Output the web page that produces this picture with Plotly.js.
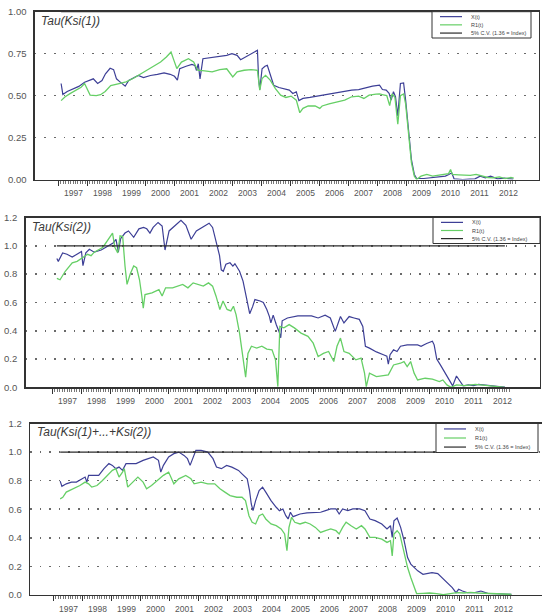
<!DOCTYPE html>
<html>
<head>
<meta charset="utf-8">
<script src="https://cdn.plot.ly/plotly-3.0.1.min.js"></script>
<style>html,body{margin:0;padding:0;background:#fff}</style>
</head>
<body>
<div id="chart" style="width:542px;height:612px"></div>
<script>
// Year labels on the time axis
const yearLabels = [1997,1998,1999,2000,2001,2002,2003,2004,2005,2006,2007,2008,2009,2010,2011,2012];
const seriesNames = ['X(t)', 'R1(t)', '5% C.V. (1.36 = Index)'];
const cvLevel = 1.0;   // 5% critical value expressed as index (1.36 -> 1)

// Tau(Ksi(1)) : [decimal year, index]
const ksi1X = [[1997.09,0.572],[1997.15,0.507],[1997.3,0.525],[1997.5,0.54],[1997.7,0.555],[1997.9,0.58],[1998.05,0.59],[1998.2,0.6],[1998.35,0.572],[1998.5,0.59],[1998.62,0.63],[1998.78,0.663],[1998.9,0.655],[1999.0,0.6],[1999.1,0.585],[1999.2,0.57],[1999.3,0.556],[1999.42,0.59],[1999.63,0.61],[1999.75,0.62],[1999.93,0.607],[2000.17,0.62],[2000.41,0.627],[2000.64,0.635],[2000.85,0.627],[2001.0,0.615],[2001.1,0.592],[2001.18,0.66],[2001.4,0.675],[2001.6,0.686],[2001.7,0.68],[2001.76,0.65],[2001.82,0.69],[2001.88,0.6],[2001.98,0.72],[2002.25,0.726],[2002.52,0.73],[2002.8,0.74],[2002.98,0.75],[2003.16,0.74],[2003.28,0.714],[2003.46,0.73],[2003.66,0.75],[2003.86,0.77],[2003.9,0.6],[2003.94,0.536],[2004.02,0.66],[2004.12,0.675],[2004.2,0.68],[2004.3,0.62],[2004.42,0.562],[2004.6,0.548],[2004.78,0.542],[2004.96,0.533],[2005.08,0.513],[2005.2,0.523],[2005.29,0.47],[2005.43,0.483],[2005.67,0.489],[2005.91,0.497],[2006.15,0.503],[2006.39,0.509],[2006.63,0.517],[2006.87,0.529],[2007.11,0.533],[2007.35,0.536],[2007.59,0.548],[2007.83,0.556],[2008.07,0.562],[2008.17,0.536],[2008.3,0.533],[2008.4,0.513],[2008.47,0.473],[2008.55,0.523],[2008.62,0.493],[2008.7,0.379],[2008.79,0.572],[2008.9,0.576],[2008.97,0.473],[2009.07,0.276],[2009.17,0.118],[2009.27,0.03],[2009.35,0.006],[2009.6,0.006],[2009.87,0.01],[2010.1,0.016],[2010.34,0.02],[2010.46,0.03],[2010.56,0.04],[2010.64,0.004],[2010.94,0.0],[2011.18,0.002],[2011.36,0.004],[2011.54,0.02],[2011.72,0.01],[2011.9,0.02],[2012.14,0.004],[2012.38,0.008],[2012.68,0.002]];
const ksi1R1 = [[1997.09,0.47],[1997.23,0.493],[1997.41,0.513],[1997.6,0.53],[1997.78,0.55],[1997.9,0.572],[1998.0,0.54],[1998.09,0.503],[1998.3,0.5],[1998.45,0.505],[1998.61,0.525],[1998.8,0.56],[1999.09,0.572],[1999.33,0.582],[1999.57,0.602],[1999.81,0.627],[2000.05,0.651],[2000.28,0.675],[2000.52,0.7],[2000.72,0.73],[2000.88,0.76],[2000.98,0.71],[2001.08,0.661],[2001.24,0.7],[2001.48,0.72],[2001.66,0.7],[2001.8,0.651],[2002.04,0.647],[2002.3,0.641],[2002.56,0.655],[2002.8,0.66],[2003.01,0.611],[2003.16,0.641],[2003.4,0.651],[2003.64,0.655],[2003.86,0.651],[2003.94,0.533],[2004.02,0.602],[2004.14,0.621],[2004.3,0.592],[2004.48,0.542],[2004.66,0.503],[2004.84,0.489],[2005.02,0.497],[2005.2,0.473],[2005.32,0.398],[2005.43,0.424],[2005.61,0.438],[2005.85,0.438],[2006.01,0.424],[2006.09,0.438],[2006.33,0.45],[2006.63,0.464],[2006.87,0.473],[2007.11,0.493],[2007.35,0.497],[2007.53,0.483],[2007.71,0.503],[2007.95,0.509],[2008.07,0.51],[2008.2,0.505],[2008.32,0.5],[2008.42,0.44],[2008.5,0.51],[2008.6,0.49],[2008.7,0.33],[2008.79,0.5],[2008.9,0.51],[2008.97,0.45],[2009.07,0.26],[2009.17,0.1],[2009.27,0.02],[2009.35,0.0],[2009.5,0.02],[2009.7,0.03],[2009.9,0.02],[2010.1,0.025],[2010.3,0.03],[2010.45,0.035],[2010.52,0.06],[2010.58,0.03],[2010.8,0.028],[2011.0,0.028],[2011.2,0.025],[2011.4,0.03],[2011.6,0.02],[2011.8,0.012],[2012.0,0.01],[2012.2,0.015],[2012.4,0.005],[2012.6,0.012],[2012.7,0.008]];

// Tau(Ksi(2))
const ksi2X = [[1997.15,0.91],[1997.2,0.89],[1997.35,0.95],[1997.5,0.94],[1997.68,0.92],[1997.91,0.95],[1998.0,0.96],[1998.05,0.86],[1998.15,0.95],[1998.27,0.975],[1998.44,0.955],[1998.68,0.97],[1998.92,1.0],[1999.09,1.02],[1999.19,1.045],[1999.27,0.955],[1999.35,1.05],[1999.5,1.09],[1999.62,1.105],[1999.8,1.06],[1999.98,1.12],[2000.14,1.13],[2000.25,1.12],[2000.36,1.09],[2000.47,1.13],[2000.64,1.165],[2000.78,1.14],[2000.88,0.97],[2001.02,1.105],[2001.2,1.14],[2001.43,1.18],[2001.6,1.145],[2001.78,1.046],[2001.96,1.105],[2002.15,1.13],[2002.4,1.16],[2002.52,1.13],[2002.64,1.034],[2002.76,0.93],[2002.82,0.83],[2002.89,0.82],[2002.98,0.87],[2003.12,0.88],[2003.22,0.857],[2003.29,0.873],[2003.45,0.82],[2003.57,0.75],[2003.68,0.64],[2003.8,0.52],[2003.9,0.57],[2003.98,0.62],[2004.16,0.61],[2004.27,0.6],[2004.39,0.55],[2004.48,0.5],[2004.53,0.455],[2004.61,0.51],[2004.72,0.44],[2004.81,0.395],[2004.87,0.35],[2004.92,0.47],[2005.1,0.49],[2005.46,0.505],[2005.93,0.505],[2006.16,0.49],[2006.4,0.51],[2006.58,0.49],[2006.75,0.395],[2006.85,0.455],[2006.93,0.5],[2007.05,0.455],[2007.23,0.5],[2007.4,0.49],[2007.58,0.48],[2007.7,0.43],[2007.79,0.29],[2007.93,0.277],[2008.17,0.25],[2008.41,0.23],[2008.53,0.22],[2008.58,0.163],[2008.64,0.23],[2008.76,0.265],[2008.88,0.253],[2009.0,0.29],[2009.23,0.3],[2009.59,0.3],[2009.71,0.29],[2009.9,0.31],[2010.1,0.325],[2010.16,0.3],[2010.25,0.2],[2010.37,0.16],[2010.47,0.123],[2010.66,0.052],[2010.8,0.01],[2010.93,0.08],[2011.05,0.04],[2011.16,0.01],[2011.34,0.017],[2011.52,0.012],[2011.69,0.02],[2011.93,0.017],[2012.17,0.01],[2012.4,0.005],[2012.6,0.002]];
const ksi2R1 = [[1997.15,0.77],[1997.26,0.76],[1997.44,0.82],[1997.68,0.88],[1997.85,0.89],[1998.03,0.915],[1998.21,0.94],[1998.33,0.93],[1998.44,0.955],[1998.74,0.99],[1998.98,1.06],[1999.07,1.09],[1999.15,0.99],[1999.25,0.95],[1999.33,1.07],[1999.42,1.065],[1999.5,0.857],[1999.57,0.727],[1999.68,0.8],[1999.8,0.857],[1999.9,0.845],[2000.0,0.76],[2000.08,0.645],[2000.13,0.56],[2000.19,0.655],[2000.43,0.667],[2000.67,0.69],[2000.78,0.645],[2000.9,0.703],[2001.14,0.703],[2001.49,0.727],[2001.67,0.703],[2001.85,0.738],[2002.02,0.727],[2002.2,0.715],[2002.38,0.738],[2002.52,0.715],[2002.64,0.644],[2002.77,0.55],[2002.88,0.61],[2003.02,0.55],[2003.15,0.54],[2003.24,0.573],[2003.33,0.514],[2003.45,0.383],[2003.57,0.206],[2003.66,0.071],[2003.74,0.24],[2003.86,0.29],[2004.04,0.277],[2004.22,0.29],[2004.39,0.27],[2004.57,0.265],[2004.69,0.194],[2004.77,0.005],[2004.84,0.43],[2004.98,0.42],[2005.16,0.443],[2005.34,0.42],[2005.57,0.383],[2005.81,0.36],[2005.99,0.312],[2006.16,0.218],[2006.34,0.24],[2006.52,0.253],[2006.7,0.182],[2006.81,0.29],[2006.93,0.348],[2007.05,0.253],[2007.23,0.24],[2007.46,0.194],[2007.64,0.206],[2007.76,0.1],[2007.82,0.005],[2007.93,0.1],[2008.17,0.076],[2008.41,0.08],[2008.58,0.088],[2008.76,0.158],[2009.0,0.17],[2009.12,0.182],[2009.23,0.147],[2009.35,0.182],[2009.47,0.1],[2009.59,0.052],[2009.85,0.064],[2010.1,0.057],[2010.34,0.04],[2010.46,0.052],[2010.6,0.017],[2010.74,0.0],[2010.93,0.017],[2011.22,0.012],[2011.58,0.02],[2011.93,0.014],[2012.28,0.005],[2012.6,0.0]];

// Tau(Ksi(1)+...+Ksi(2))
const ksiSumX = [[1997.23,0.797],[1997.29,0.76],[1997.44,0.778],[1997.62,0.79],[1997.79,0.79],[1997.97,0.813],[1998.09,0.825],[1998.15,0.79],[1998.21,0.837],[1998.38,0.837],[1998.56,0.837],[1998.74,0.884],[1998.91,0.92],[1999.03,0.907],[1999.15,0.884],[1999.26,0.895],[1999.38,0.872],[1999.5,0.919],[1999.68,0.919],[1999.85,0.919],[2000.09,0.942],[2000.26,0.954],[2000.44,0.966],[2000.62,0.942],[2000.7,0.86],[2000.79,0.907],[2000.97,0.966],[2001.15,0.989],[2001.32,1.0],[2001.5,0.977],[2001.62,0.954],[2001.71,0.907],[2001.79,0.954],[2001.91,1.012],[2002.09,1.012],[2002.32,1.0],[2002.5,0.954],[2002.62,0.895],[2002.79,0.884],[2002.97,0.907],[2003.15,0.895],[2003.38,0.872],[2003.5,0.848],[2003.68,0.813],[2003.76,0.731],[2003.82,0.637],[2003.88,0.59],[2003.97,0.66],[2004.09,0.731],[2004.21,0.755],[2004.32,0.72],[2004.5,0.66],[2004.68,0.614],[2004.79,0.59],[2004.91,0.602],[2005.01,0.555],[2005.09,0.532],[2005.17,0.579],[2005.26,0.548],[2005.5,0.567],[2005.74,0.574],[2005.97,0.579],[2006.21,0.579],[2006.38,0.59],[2006.56,0.602],[2006.74,0.602],[2006.85,0.567],[2006.97,0.602],[2007.15,0.59],[2007.32,0.602],[2007.56,0.602],[2007.74,0.59],[2007.91,0.532],[2008.09,0.52],[2008.32,0.497],[2008.5,0.462],[2008.62,0.485],[2008.68,0.403],[2008.74,0.52],[2008.85,0.539],[2008.97,0.473],[2009.09,0.38],[2009.21,0.262],[2009.32,0.216],[2009.44,0.192],[2009.56,0.169],[2009.74,0.145],[2009.9,0.15],[2010.05,0.157],[2010.25,0.15],[2010.4,0.122],[2010.58,0.087],[2010.75,0.052],[2010.88,0.016],[2010.97,0.04],[2011.1,0.028],[2011.28,0.016],[2011.5,0.016],[2011.74,0.028],[2011.97,0.012],[2012.21,0.01],[2012.5,0.007],[2012.79,0.005]];
const ksiSumR1 = [[1997.23,0.673],[1997.32,0.684],[1997.44,0.72],[1997.68,0.743],[1997.91,0.766],[1998.09,0.79],[1998.21,0.778],[1998.32,0.755],[1998.5,0.766],[1998.68,0.8],[1998.85,0.837],[1999.03,0.872],[1999.15,0.884],[1999.26,0.825],[1999.38,0.86],[1999.44,0.884],[1999.56,0.755],[1999.74,0.79],[1999.91,0.825],[2000.09,0.79],[2000.21,0.743],[2000.38,0.766],[2000.56,0.8],[2000.79,0.837],[2000.97,0.86],[2001.15,0.778],[2001.32,0.813],[2001.56,0.837],[2001.74,0.813],[2001.85,0.778],[2002.09,0.79],[2002.32,0.778],[2002.56,0.778],[2002.74,0.743],[2002.91,0.72],[2003.09,0.696],[2003.32,0.684],[2003.5,0.684],[2003.62,0.661],[2003.74,0.555],[2003.85,0.509],[2003.97,0.497],[2004.09,0.555],[2004.21,0.567],[2004.32,0.532],[2004.5,0.497],[2004.68,0.485],[2004.85,0.462],[2004.97,0.427],[2005.05,0.31],[2005.12,0.473],[2005.21,0.544],[2005.32,0.509],[2005.5,0.497],[2005.68,0.509],[2005.85,0.497],[2006.03,0.473],[2006.21,0.438],[2006.38,0.45],[2006.56,0.462],[2006.74,0.45],[2006.85,0.427],[2006.97,0.473],[2007.09,0.509],[2007.26,0.485],[2007.44,0.462],[2007.62,0.485],[2007.74,0.462],[2007.91,0.403],[2008.09,0.403],[2008.32,0.391],[2008.5,0.368],[2008.62,0.38],[2008.68,0.274],[2008.74,0.427],[2008.85,0.45],[2008.94,0.427],[2009.09,0.286],[2009.21,0.192],[2009.32,0.122],[2009.44,0.052],[2009.52,0.01],[2009.74,0.012],[2009.97,0.014],[2010.21,0.01],[2010.44,0.002],[2010.68,0.01],[2010.91,0.016],[2011.15,0.014],[2011.38,0.019],[2011.62,0.014],[2011.85,0.012],[2012.09,0.01],[2012.38,0.007],[2012.79,0.005]];

const colorX = '#3d3f96';
const colorR1 = '#66cf66';
const colorCV = '#2b2b2b';
const inkColor = '#333333';
const labelColor = '#555555';

// Page geometry (pixels) for the three stacked panels
const W = 542, H = 612, pxPerYear = 29;
const panels = [
  { title: 'Tau(Ksi(1))', x: ksi1X, r1: ksi1R1, box: [34.7, 11.7, 538.5, 179.5], x1997: 58.5,
    yMax: 1.0, yStep: 0.25, yFmt: '.2f', titleAt: [39, 21], legend: [432, 11.7, 531, 38], mirrorY: true },
  { title: 'Tau(Ksi(2))', x: ksi2X, r1: ksi2R1, box: [25.5, 217.5, 540, 387.3], x1997: 52.5,
    yMax: 1.2, yStep: 0.2, yFmt: '.1f', titleAt: [30, 227], legend: [433, 217.5, 540, 243.5], mirrorY: true },
  { title: 'Tau(Ksi(1)+...+Ksi(2))', x: ksiSumX, r1: ksiSumR1, box: [30, 423.5, 542, 595], x1997: 53.5,
    yMax: 1.2, yStep: 0.2, yFmt: '.1f', titleAt: [35, 432], legend: [436, 423.5, 538, 452.5], mirrorY: false }
];

const fx = p => p / W;
const fy = p => 1 - p / H;

const traces = [];
const layout = {
  width: W, height: H,
  margin: { l: 0, r: 0, t: 0, b: 0 },
  paper_bgcolor: '#ffffff', plot_bgcolor: '#ffffff',
  showlegend: false,
  font: { family: 'Liberation Sans, Arial, sans-serif', color: labelColor },
  shapes: [], annotations: []
};

const firstYear = yearLabels[0];
const lastYear = yearLabels[yearLabels.length - 1];
// monthly minor ticks across the sample
const monthTicks = [];
for (let m = 0; m <= (lastYear - firstYear) * 12 + 9; m++) monthTicks.push(firstYear + m / 12);

panels.forEach((p, i) => {
  const n = i === 0 ? '' : String(i + 1);
  const xa = 'x' + n, ya = 'y' + n;
  const [L, T, R, B] = p.box;
  const xr = [firstYear + (L - p.x1997) / pxPerYear, firstYear + (R - p.x1997) / pxPerYear];

  const yTicks = [];
  for (let v = 0; v <= p.yMax + 1e-9; v += p.yStep) yTicks.push(+v.toFixed(3));

  layout['xaxis' + n] = {
    domain: [fx(L), Math.min(1, fx(R))], range: xr, anchor: ya,
    showline: true, mirror: true, linecolor: inkColor, linewidth: 1.3,
    showgrid: false, zeroline: false,
    tickmode: 'array', tickvals: yearLabels, ticktext: yearLabels.map(String),
    ticks: 'outside', ticklen: 5, tickwidth: 1, tickcolor: inkColor,
    ticklabelshift: Math.round(pxPerYear / 2),
    tickfont: { size: 8.5, color: labelColor },
    minor: { tickmode: 'array', tickvals: monthTicks, ticks: 'outside', ticklen: 3,
             tickwidth: 0.8, tickcolor: '#555', showgrid: false }
  };
  layout['yaxis' + n] = {
    domain: [fy(B), fy(T)], range: [0, p.yMax], anchor: xa,
    showline: true, mirror: p.mirrorY, linecolor: inkColor, linewidth: 1.3,
    zeroline: false,
    tickmode: 'array', tickvals: yTicks, tickformat: p.yFmt,
    ticks: '', ticklabelstandoff: 5,
    tickfont: { size: 9.5, color: labelColor },
    showgrid: true, gridcolor: '#6a6a6a', gridwidth: 1.6, griddash: '1.6px,8px'
  };

  traces.push({
    type: 'scatter', mode: 'lines', name: seriesNames[0], xaxis: xa, yaxis: ya,
    x: p.x.map(d => d[0]), y: p.x.map(d => d[1]),
    line: { color: colorX, width: 1.2 }
  });
  traces.push({
    type: 'scatter', mode: 'lines', name: seriesNames[1], xaxis: xa, yaxis: ya,
    x: p.r1.map(d => d[0]), y: p.r1.map(d => d[1]),
    line: { color: colorR1, width: 1.3 }
  });
  const t0 = Math.min(p.x[0][0], p.r1[0][0]);
  const t1 = Math.max(p.x[p.x.length - 1][0], p.r1[p.r1.length - 1][0]);
  traces.push({
    type: 'scatter', mode: 'lines', name: seriesNames[2], xaxis: xa, yaxis: ya,
    x: [t0, t1], y: [cvLevel, cvLevel], cliponaxis: false,
    line: { color: colorCV, width: 1.2 }
  });

  // panel heading
  layout.annotations.push({
    xref: 'paper', yref: 'paper', x: fx(p.titleAt[0]), y: fy(p.titleAt[1]),
    xanchor: 'left', yanchor: 'middle', showarrow: false,
    text: '<i>' + p.title + '</i>', font: { size: 12, color: '#3a3a3a' }
  });

  // key box
  const [lx0, ly0, lx1, ly1] = p.legend;
  layout.shapes.push({
    type: 'rect', xref: 'paper', yref: 'paper', layer: 'above',
    x0: fx(lx0), x1: fx(lx1), y0: fy(ly1), y1: fy(ly0),
    fillcolor: '#ffffff', line: { color: inkColor, width: 1 }
  });
  const rowH = (ly1 - ly0) / 3.2;
  [colorX, colorR1, colorCV].forEach((c, k) => {
    const yy = ly0 + rowH * (k + 0.6);
    layout.shapes.push({
      type: 'line', xref: 'paper', yref: 'paper', layer: 'above',
      x0: fx(lx0 + 8), x1: fx(lx0 + 30), y0: fy(yy), y1: fy(yy),
      line: { color: c, width: 1.2 }
    });
    layout.annotations.push({
      xref: 'paper', yref: 'paper', x: fx(lx0 + 37), y: fy(yy),
      xanchor: 'left', yanchor: 'middle', showarrow: false,
      text: seriesNames[k], font: { size: 5.5, color: '#444' }
    });
  });
});

Plotly.newPlot('chart', traces, layout, { staticPlot: true, displayModeBar: false });
</script>
</body>
</html>
